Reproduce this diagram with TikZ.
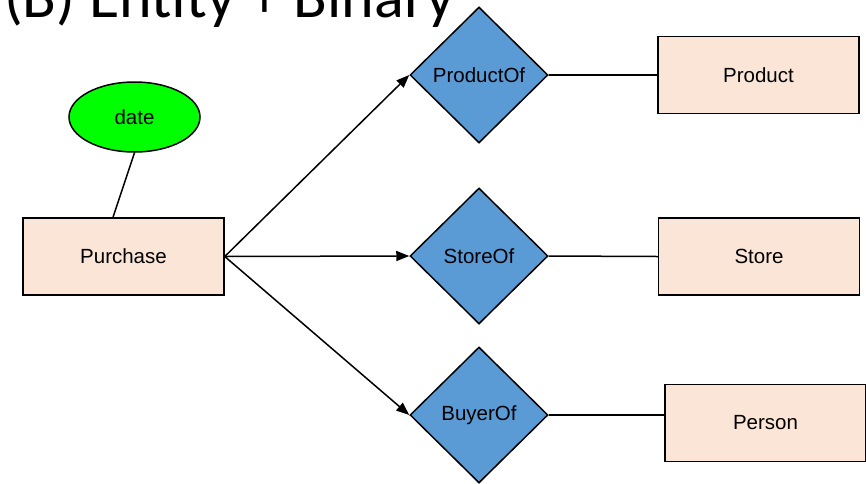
\documentclass[tikz,border=0pt]{standalone}
\usepackage{fontspec}
\setmainfont{Liberation Sans}
\newfontfamily\titlefont{Carlito}
\usetikzlibrary{shapes.geometric,arrows.meta}
\definecolor{entityfill}{HTML}{FBE5D6}
\definecolor{relfill}{HTML}{5B9BD5}
\definecolor{attrfill}{HTML}{00FF00}
\begin{document}
\begin{tikzpicture}[x=1pt,y=-1pt,
  every node/.style={font=\fontsize{20.5}{24}\selectfont, inner sep=0pt},
  entity/.style={draw=black, line width=1.5pt, fill=entityfill, minimum width=201pt, minimum height=77pt},
  relation/.style={draw=black, line width=1.5pt, fill=relfill, diamond, aspect=1, minimum width=138pt, minimum height=136pt},
  attribute/.style={draw=black, line width=1.5pt, fill=attrfill, ellipse, minimum width=131pt, minimum height=70pt},
  link/.style={line width=1.5pt},
  arrowlink/.style={line width=1.5pt, -{Triangle[length=13pt,width=10pt]}}]
\useasboundingbox (0,0) rectangle (866,483);

% title (partly above the top edge)
\node[anchor=base west, font=\titlefont\fontsize{62}{70}\selectfont] (title) at (4,17) {(B) Entity + Binary};

% entities
\node[entity] (purchase) at (123.5,256.5) {Purchase};
\node[entity] (product) at (758.5,75) {Product};
\node[entity] (store) at (759,256.5) {Store};
\node[entity] (person) at (765.5,423) {Person};

% attribute
\node[attribute] (date) at (134.5,117) {date};

% relationships
\node[relation] (productof) at (479,75) {ProductOf};
\node[relation] (storeof) at (479,256) {StoreOf};
\node[relation] (buyerof) at (479,415) {BuyerOf};

% connectors
\draw[link] (date.south) -- ([xshift=-10.5pt]purchase.north);
\draw[arrowlink] (purchase.east) -- (productof.west);
\draw[arrowlink] (purchase.east) -- (storeof.west);
\draw[arrowlink] (purchase.east) -- (buyerof.west);
\draw[link] (productof.east) -- (product.west);
\draw[link] (storeof.east) -- (store.west);
\draw[link] (buyerof.east) -- (buyerof.east -| person.west);
\end{tikzpicture}
\end{document}
